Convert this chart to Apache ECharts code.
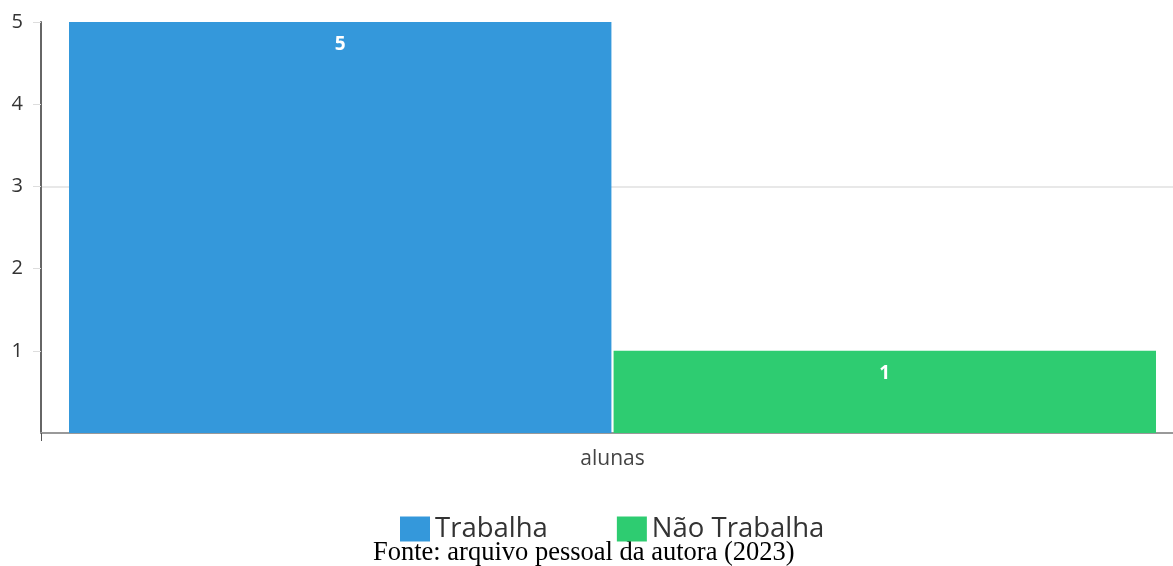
<!DOCTYPE html>
<html><head><meta charset="utf-8">
<script src="https://cdn.jsdelivr.net/npm/echarts@6/dist/echarts.min.js"></script>
<style>html,body{margin:0;padding:0;background:#fff}#c{width:1173px;height:566px}</style>
</head><body><div id="c"></div>
<script>
var categories = ['alunas'];
var seriesNames = ['Trabalha', 'Não Trabalha'];
var trabalha = [5];
var naoTrabalha = [1];
var colors = ['#3498db', '#2ecc71'];
var sourceText = 'Fonte: arquivo pessoal da autora (2023)';

var chart = echarts.init(document.getElementById('c'));
chart.setOption({
  animation: false,
  textStyle: { fontFamily: 'Open Sans' },
  grid: { left: 41, top: 22, width: 1143, height: 411, containLabel: false, outerBoundsMode: 'none' },
  legend: {
    data: seriesNames, top: 510, left: 395, icon: 'rect',
    itemWidth: 30, itemHeight: 25, itemGap: 69,
    textStyle: { fontSize: 27.5, color: '#333', fontFamily: 'Open Sans' }
  },
  xAxis: {
    type: 'category', data: categories,
    axisLine: { lineStyle: { color: '#999', width: 2 } },
    axisTick: { show: true, length: 8, lineStyle: { color: '#555' } },
    axisLabel: { fontSize: 21, color: '#444', margin: 16 }
  },
  yAxis: {
    type: 'value', min: 0, max: 5, interval: 1,
    axisLine: { show: true, lineStyle: { color: '#666', width: 2 } },
    axisTick: { show: true, length: 8, lineStyle: { color: '#ddd' } },
    axisLabel: { fontSize: 20, color: '#333', margin: 18, showMinLabel: false },
    splitLine: { show: true, lineStyle: { color: ['transparent','transparent','transparent','#e8e8e8','transparent','transparent'], width: 2 } }
  },
  series: [
    { name: seriesNames[0], type: 'bar', data: trabalha, barCategoryGap: '4.9%', barGap: '0.4%',
      itemStyle: { color: colors[0] },
      label: { show: true, position: 'insideTop', distance: 13, color: '#fff', fontWeight: 'bold', fontSize: 19 } },
    { name: seriesNames[1], type: 'bar', data: naoTrabalha,
      itemStyle: { color: colors[1] },
      label: { show: true, position: 'insideTop', distance: 13, color: '#fff', fontWeight: 'bold', fontSize: 19 } }
  ],
  graphic: [{
    type: 'text', left: 373, top: 540,
    style: { text: sourceText, font: '26.5px "Liberation Serif"', fill: '#000' }
  }]
});
</script></body></html>
